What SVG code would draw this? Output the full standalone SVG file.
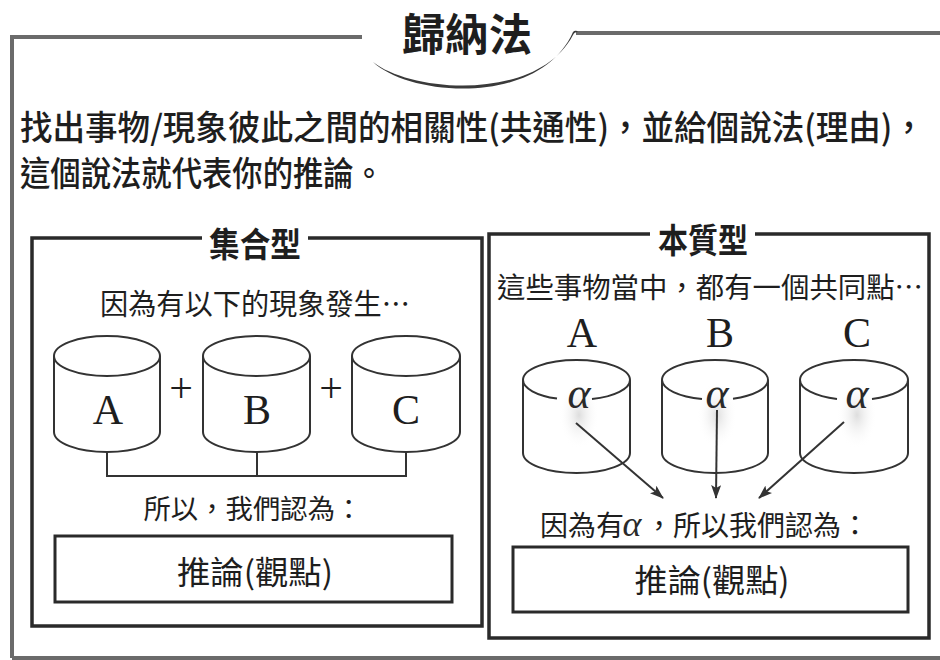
<svg xmlns="http://www.w3.org/2000/svg" width="940" height="660" viewBox="0 0 940 660">
<style>
.frame{fill:none;stroke:#6b6b6b;stroke-width:4}
.box{fill:none;stroke:#2a2a2a;stroke-width:3.5}
.inbox{fill:none;stroke:#2a2a2a;stroke-width:3}
.cyl{fill:none;stroke:#333;stroke-width:2}
.conn{fill:none;stroke:#333;stroke-width:2}
.zh{font-family:"Noto Sans CJK TC","Noto Sans CJK SC",sans-serif;fill:#1e1e1e}
.lat{font-family:"Liberation Serif",serif;fill:#1e1e1e}
.alpha{font-family:"Liberation Serif",serif;font-style:italic;fill:#2a2a2a}
</style>
<defs>
<marker id="ah" viewBox="0 0 14 10" refX="13" refY="5" markerWidth="14" markerHeight="10" markerUnits="userSpaceOnUse" orient="auto">
<path d="M0,0 L14,5 L0,10 L3,5 z" fill="#333"/>
</marker>
<radialGradient id="halo" cx="0.5" cy="0.5" r="0.5">
<stop offset="0" stop-color="#cfcfcf" stop-opacity="0.7"/>
<stop offset="1" stop-color="#ffffff" stop-opacity="0"/>
</radialGradient>
</defs>
<rect width="940" height="660" fill="#ffffff"/>

<g id="outer-frame">
<path class="frame" d="M12 658 L12 37 L362 37"/>
<path class="frame" d="M576 33 L940 33"/>
<path class="frame" d="M12 658 L940 658"/>
</g>

<g id="title">
<path d="M373 62 C410 97 540 107 573 32 C575 30 577 31 578 32 C575 32 574 33 573 35 C538 102 412 93 373 62 Z" fill="#3a3a3a"/>
<text class="zh" x="467" y="51" font-size="44" font-weight="700" text-anchor="middle" textLength="130" lengthAdjust="spacingAndGlyphs">歸納法</text>
</g>

<g id="intro">
<text class="zh" x="20" y="140" font-size="34" font-weight="500" textLength="905" lengthAdjust="spacingAndGlyphs">找出事物/現象彼此之間的相關性(共通性)，並給個說法(理由)，</text>
<text class="zh" x="20" y="186" font-size="34" font-weight="500" textLength="364" lengthAdjust="spacingAndGlyphs">這個說法就代表你的推論。</text>
</g>

<g id="set-type">
<path class="box" d="M202 238 L32 238 L32 626 L482 626 L482 238 L308 238"/>
<text class="zh" x="255" y="257" font-size="34" font-weight="700" text-anchor="middle" textLength="92" lengthAdjust="spacingAndGlyphs">集合型</text>
<text class="zh" x="255" y="315" font-size="29" text-anchor="middle" textLength="310" lengthAdjust="spacingAndGlyphs">因為有以下的現象發生…</text>
</g>

<g id="set-cyl-a">
<path class="cyl" d="M54 356 A53 20 0 1 1 160 356 A53 20 0 1 1 54 356 Z M54 356 L54 432 A53 20 0 0 0 160 432 L160 356"/>
<text class="lat" x="108" y="424" font-size="42" text-anchor="middle">A</text>
</g>
<g id="set-cyl-b">
<path class="cyl" d="M203 356 A53.5 20 0 1 1 310 356 A53.5 20 0 1 1 203 356 Z M203 356 L203 432 A53.5 20 0 0 0 310 432 L310 356"/>
<text class="lat" x="257" y="424" font-size="42" text-anchor="middle">B</text>
</g>
<g id="set-cyl-c">
<path class="cyl" d="M352 356 A54 20 0 1 1 460 356 A54 20 0 1 1 352 356 Z M352 356 L352 432 A54 20 0 0 0 460 432 L460 356"/>
<text class="lat" x="406" y="424" font-size="42" text-anchor="middle">C</text>
</g>
<g id="set-plus">
<text class="lat" x="181" y="402" font-size="42" text-anchor="middle">+</text>
<text class="lat" x="331" y="402" font-size="42" text-anchor="middle">+</text>
</g>
<g id="set-conclusion">
<text class="zh" x="253" y="519" font-size="27" text-anchor="middle" textLength="219" lengthAdjust="spacingAndGlyphs">所以，我們認為：</text>
</g>
<g id="set-result">
<rect class="inbox" x="55" y="536" width="397" height="66"/>
<text class="zh" x="255" y="584" font-size="32" text-anchor="middle" textLength="156" lengthAdjust="spacingAndGlyphs">推論(觀點)</text>
</g>

<g id="essence-type">
<path class="box" d="M650 234 L489 234 L489 638 L929 638 L929 234 L755 234"/>
<text class="zh" x="703" y="253" font-size="34" font-weight="700" text-anchor="middle" textLength="90" lengthAdjust="spacingAndGlyphs">本質型</text>
<text class="zh" x="710" y="298" font-size="28" text-anchor="middle" textLength="426" lengthAdjust="spacingAndGlyphs">這些事物當中，都有一個共同點…</text>
</g>

<g id="ess-cyl-a">
<text class="lat" x="582" y="347" font-size="42" text-anchor="middle">A</text>
<ellipse cx="579" cy="415" rx="20" ry="34" fill="url(#halo)"/>
<path class="cyl" d="M523 380 A53.5 20 0 0 1 630 380 M523 380 A53.5 20 0 0 0 557 398.6 M592 399.1 A53.5 20 0 0 0 630 380 M523 380 L523 453 A53.5 20 0 0 0 630 453 L630 380"/>
<text class="alpha" x="579" y="408" font-size="44" text-anchor="middle">α</text>
</g>
<g id="ess-cyl-b">
<text class="lat" x="720" y="347" font-size="42" text-anchor="middle">B</text>
<ellipse cx="717" cy="415" rx="20" ry="34" fill="url(#halo)"/>
<path class="cyl" d="M662 380 A53 20 0 0 1 768 380 M662 380 A53 20 0 0 0 702 399 M733 398.8 A53 20 0 0 0 768 380 M662 380 L662 453 A53 20 0 0 0 768 453 L768 380"/>
<text class="alpha" x="717" y="408" font-size="44" text-anchor="middle">α</text>
</g>
<g id="ess-cyl-c">
<text class="lat" x="857" y="347" font-size="42" text-anchor="middle">C</text>
<ellipse cx="857" cy="415" rx="20" ry="34" fill="url(#halo)"/>
<path class="cyl" d="M800 380 A54 20 0 0 1 908 380 M800 380 A54 20 0 0 0 837 399 M872 398.9 A54 20 0 0 0 908 380 M800 380 L800 453 A54 20 0 0 0 908 453 L908 380"/>
<text class="alpha" x="857" y="408" font-size="44" text-anchor="middle">α</text>
</g>
<g id="ess-conclusion">
<text class="zh" x="540" y="536" font-size="28">因為有</text>
<text class="alpha" x="632" y="536" font-size="36" text-anchor="middle">α</text>
<text class="zh" x="645" y="536" font-size="28" textLength="224" lengthAdjust="spacingAndGlyphs">，所以我們認為：</text>
</g>
<g id="ess-result">
<rect class="inbox" x="513" y="547" width="395" height="65"/>
<text class="zh" x="712" y="592" font-size="32" text-anchor="middle" textLength="155" lengthAdjust="spacingAndGlyphs">推論(觀點)</text>
</g>

<g id="connectors">
<path class="conn" d="M107 452 L107 476 L406 476 L406 452 M257 452 L257 476"/>
<line class="conn" x1="576" y1="423" x2="663" y2="498" marker-end="url(#ah)"/>
<line class="conn" x1="717" y1="410" x2="716" y2="498" marker-end="url(#ah)"/>
<line class="conn" x1="844" y1="422" x2="759" y2="498" marker-end="url(#ah)"/>
</g>
</svg>
